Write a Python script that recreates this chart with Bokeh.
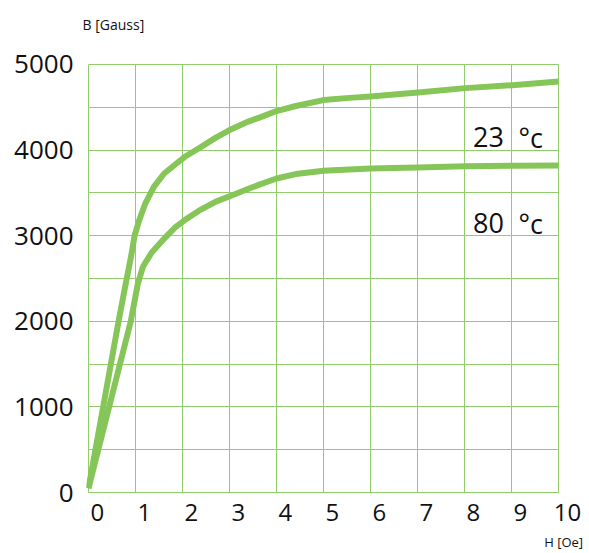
from bokeh.plotting import figure
from bokeh.models import Range1d, FixedTicker, Label, LinearAxis
from bokeh.embed import file_html
from bokeh.resources import INLINE

# --- data ---
h_23 = [0, 0.64, 0.80, 0.91, 0.98, 1.08, 1.21, 1.39, 1.61, 1.87, 2.05, 2.35, 2.71,
        3.06, 3.40, 3.65, 4.00, 4.41, 5.00, 5.55, 6.00, 7.01, 8.02, 9.02, 10]
b_23 = [50, 2000, 2462, 2770, 3000, 3182, 3378, 3570, 3727, 3844, 3922, 4021, 4146,
        4250, 4333, 4383, 4456, 4515, 4584, 4610, 4627, 4673, 4724, 4758, 4800]

h_80 = [0, 0.90, 1.05, 1.16, 1.35, 1.57, 1.85, 2.05, 2.35, 2.71, 3.06, 3.39, 3.65,
        4.00, 4.41, 5.00, 5.55, 6.00, 7.01, 8.02, 9.02, 10]
b_80 = [50, 2000, 2440, 2640, 2808, 2942, 3100, 3182, 3292, 3398, 3472, 3545, 3600,
        3668, 3720, 3758, 3773, 3785, 3797, 3812, 3817, 3820]

x_ticks = [0, 1, 2, 3, 4, 5, 6, 7, 8, 9, 10]
y_ticks = [0, 1000, 2000, 3000, 4000, 5000]
x_grid = [0, 1, 2, 3, 4, 5, 6, 7, 8, 9, 10]
y_grid = [0, 500, 1000, 1500, 2000, 2500, 3000, 3500, 4000, 4500, 5000]

series_names = ["23", "80"]
unit_text = "\u00b0c"
x_title = "H [Oe]"
y_title = "B [Gauss]"

CURVE = "#86c659"
GRID = "#92cd6c"
FONT = "Open Sans"
INK = "#111111"

# layout: grid box from x=88..558 px, y=64..493 px; frame is slightly larger
PXX = 47.0          # px per Oe
PXY = 429.0 / 5000  # px per Gauss
W, H = 588, 553
FL, FT, FB = 86, 62, 495
x_start = -(88 - FL) / PXX
x_end = x_start + (W - FL) / PXX
y_start = -(FB - 493) / PXY
y_end = 5000 + (64 - FT) / PXY
LAB = 0.19           # tick labels sit right of the grid lines

p = figure(width=W, height=H, output_backend="svg", toolbar_location=None,
           x_range=Range1d(x_start, x_end), y_range=Range1d(y_start, y_end),
           x_axis_location=None,
           min_border_left=FL, min_border_right=0, min_border_top=FT,
           min_border_bottom=H - FB)
p.outline_line_color = None
p.background_fill_color = "white"
p.border_fill_color = "white"

p.extra_x_ranges = {"lab": Range1d(x_start - LAB, x_end - LAB)}

p.xgrid.ticker = FixedTicker(ticks=x_grid)
p.ygrid.ticker = FixedTicker(ticks=y_grid)
p.xgrid.cross_bounds = (y_grid[0], y_grid[-1])
p.ygrid.cross_bounds = (x_grid[0], x_grid[-1])
for g in (p.xgrid, p.ygrid):
    g.grid_line_color = GRID
    g.grid_line_width = 1


def style(ax, size, standoff):
    ax.axis_line_color = None
    ax.major_tick_line_color = None
    ax.minor_tick_line_color = None
    ax.major_tick_out = 0
    ax.major_tick_in = 0
    ax.major_label_text_font = FONT
    ax.major_label_text_color = INK
    ax.major_label_text_font_size = size
    ax.major_label_standoff = standoff


xaxis = LinearAxis(x_range_name="lab", ticker=FixedTicker(ticks=x_ticks))
style(xaxis, "24px", 9)
p.add_layout(xaxis, "below")

h_pos = 9.92
haxis = LinearAxis(x_range_name="lab", ticker=FixedTicker(ticks=[h_pos]),
                   major_label_overrides={h_pos: x_title})
style(haxis, "13px", 9)
p.add_layout(haxis, "below")

b_pos = 0.34
baxis = LinearAxis(x_range_name="lab", ticker=FixedTicker(ticks=[b_pos]),
                   major_label_overrides={b_pos: y_title})
style(baxis, "14px", 29)
p.add_layout(baxis, "above")

p.yaxis.ticker = FixedTicker(ticks=y_ticks)
style(p.yaxis[0], "26px", 13)

p.line(h_23, b_23, line_color=CURVE, line_width=6, line_cap="butt", line_join="round")
p.line(h_80, b_80, line_color=CURVE, line_width=6, line_cap="butt", line_join="round")

for name, yb in zip(series_names, [4153, 3143]):
    p.add_layout(Label(x=8.18, y=yb, text=name, text_font=FONT,
                       text_font_size="27px", text_color=INK,
                       text_baseline="alphabetic", text_align="left"))
    p.add_layout(Label(x=9.15, y=yb, text=unit_text, text_font=FONT,
                       text_font_size="27px", text_color=INK,
                       text_baseline="alphabetic", text_align="left"))

open("out.html", "w").write(file_html(p, INLINE))
